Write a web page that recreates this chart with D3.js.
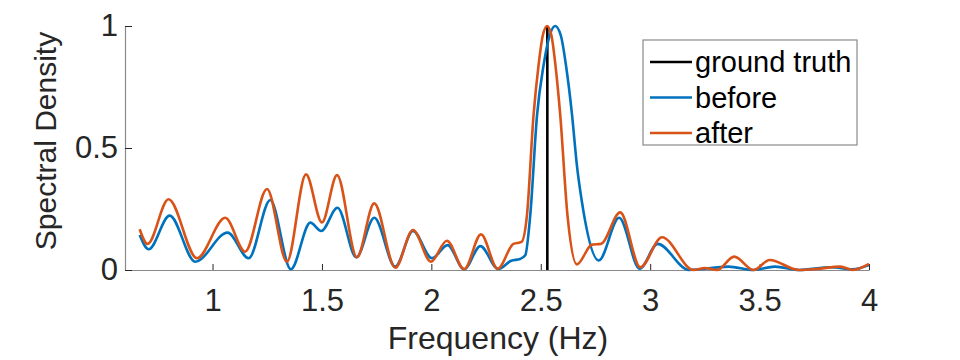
<!DOCTYPE html>
<html>
<head>
<meta charset="utf-8">
<script src="https://cdn.jsdelivr.net/npm/d3@7"></script>
<style>
  body { margin: 0; background: #fff; }
  svg { display: block; font-family: "Liberation Sans", Arial, sans-serif; }
</style>
</head>
<body>
<div id="chart"></div>
<script>
// values (Hz, normalised density)
var beforeFreq = [0.667, 0.708, 0.804, 0.921, 1.069, 1.165, 1.264, 1.358, 1.447, 1.497, 1.571, 1.657, 1.739, 1.835,
    1.916, 2.003, 2.074, 2.150, 2.224, 2.306, 2.365, 2.405, 2.429, 2.452, 2.483, 2.513, 2.540, 2.566, 2.592, 2.615,
    2.643, 2.665, 2.688, 2.765, 2.858, 2.952, 3.034, 3.177, 3.358, 3.470, 3.570, 3.680, 3.825, 3.925, 4.000];
var beforeVal = [0.143, 0.085, 0.223, 0.034, 0.153, 0.048, 0.287, 0.003, 0.194, 0.160, 0.255, 0.052, 0.214, 0.014,
    0.160, 0.048, 0.102, 0.003, 0.098, 0.004, 0.038, 0.045, 0.060, 0.225, 0.635, 0.840, 0.960, 1.000, 0.960, 0.840,
    0.635, 0.430, 0.280, 0.039, 0.214, 0.005, 0.107, 0.000, 0.014, 0.000, 0.014, 0.000, 0.011, 0.003, 0.020];

var afterFreq = [0.667, 0.703, 0.799, 0.929, 1.058, 1.149, 1.249, 1.340, 1.427, 1.500, 1.569, 1.660, 1.739, 1.835,
    1.916, 1.998, 2.071, 2.150, 2.227, 2.303, 2.375, 2.412, 2.437, 2.467, 2.490, 2.509, 2.529, 2.549, 2.567, 2.589,
    2.622, 2.665, 2.734, 2.775, 2.863, 2.955, 3.054, 3.198, 3.250, 3.305, 3.384, 3.473, 3.546, 3.680, 3.760, 3.869,
    3.925, 4.000];
var afterVal = [0.167, 0.107, 0.290, 0.048, 0.214, 0.075, 0.332, 0.034, 0.392, 0.195, 0.389, 0.052, 0.273, 0.009,
    0.164, 0.034, 0.120, 0.003, 0.146, 0.005, 0.107, 0.115, 0.225, 0.635, 0.840, 0.960, 1.000, 0.960, 0.840, 0.635,
    0.225, 0.023, 0.104, 0.107, 0.236, 0.011, 0.134, 0.000, 0.008, 0.000, 0.055, 0.000, 0.041, 0.000, 0.004, 0.014,
    0.000, 0.025];

var truthFreq = [2.53, 2.53];
var truthVal = [0, 1];

var xTicks = [1, 1.5, 2, 2.5, 3, 3.5, 4];
var yTicks = [0, 0.5, 1];
var seriesNames = ["ground truth", "before", "after"];

var W = 960, H = 360;
var margin = { top: 26, right: 91, bottom: 90, left: 125 },
    width = W - margin.left - margin.right,
    height = H - margin.top - margin.bottom;

var colors = { "ground truth": "#000000", "before": "#0072BD", "after": "#D95319" };

var svg = d3.select("#chart").append("svg")
    .attr("width", W)
    .attr("height", H);

var g = svg.append("g")
    .attr("transform", "translate(" + margin.left + "," + margin.top + ")");

var x = d3.scaleLinear().domain([0.6, 4]).range([0, width]);
var y = d3.scaleLinear().domain([0, 1]).range([height, 0]);

var line = d3.line()
    .x(function(d) { return x(d[0]); })
    .y(function(d) { return y(d[1]); })
    .curve(d3.curveMonotoneX);

function pairs(fs, vs) { return fs.map(function(f, i) { return [f, vs[i]]; }); }

// axes (MATLAB style, ticks pointing inward, no box)
var xAxis = g.append("g")
    .attr("transform", "translate(0," + height + ")")
    .call(d3.axisBottom(x).tickValues(xTicks).tickSizeInner(-6).tickSizeOuter(0).tickPadding(19)
        .tickFormat(d3.format("~g")));

var yAxis = g.append("g")
    .call(d3.axisLeft(y).tickValues(yTicks).tickSizeInner(-7).tickSizeOuter(0).tickPadding(7)
        .tickFormat(d3.format("~g")));

[xAxis, yAxis].forEach(function(a) {
    a.select(".domain").attr("stroke", "#8a8a8a").attr("stroke-width", 1.2);
    a.selectAll(".tick line").attr("stroke", "#262626").attr("stroke-width", 1);
    a.selectAll(".tick text")
        .attr("fill", "#262626")
        .style("font-size", "31px")
        .style("font-family", "'Liberation Sans', Arial, sans-serif");
});

// lines
var plot = g.append("g");
plot.append("path")
    .datum(pairs(truthFreq, truthVal))
    .attr("fill", "none")
    .attr("stroke", colors["ground truth"])
    .attr("stroke-width", 2.6)
    .attr("d", d3.line().x(function(d) { return x(d[0]); }).y(function(d) { return y(d[1]); }));

plot.append("path")
    .datum(pairs(beforeFreq, beforeVal))
    .attr("fill", "none")
    .attr("stroke", colors["before"])
    .attr("stroke-width", 2.6)
    .attr("stroke-linejoin", "round")
    .attr("d", line);

plot.append("path")
    .datum(pairs(afterFreq, afterVal))
    .attr("fill", "none")
    .attr("stroke", colors["after"])
    .attr("stroke-width", 2.6)
    .attr("stroke-linejoin", "round")
    .attr("d", line);

// axis labels
svg.append("text")
    .attr("x", 498)
    .attr("y", 349)
    .attr("text-anchor", "middle")
    .attr("fill", "#262626")
    .style("font-size", "32px")
    .text("Frequency (Hz)");

svg.append("text")
    .attr("text-anchor", "middle")
    .attr("transform", "translate(56,141)rotate(-90)")
    .attr("fill", "#262626")
    .style("font-size", "30px")
    .text("Spectral Density");

// legend
var legend = svg.append("g").attr("transform", "translate(643,40)");
legend.append("rect")
    .attr("width", 214)
    .attr("height", 105)
    .attr("fill", "#fff")
    .attr("stroke", "#8a8a8a")
    .attr("stroke-width", 1.2);

var item = legend.selectAll("g.item")
    .data(seriesNames)
    .enter().append("g")
    .attr("class", "item")
    .attr("transform", function(d, i) { return "translate(0," + (22 + i * 35.5) + ")"; });

item.append("line")
    .attr("x1", 7)
    .attr("x2", 49)
    .attr("stroke", function(d) { return colors[d]; })
    .attr("stroke-width", 2.6);

item.append("text")
    .attr("x", 52)
    .attr("y", 10)
    .attr("fill", "#000")
    .style("font-size", "29px")
    .text(function(d) { return d; });
</script>
</body>
</html>
